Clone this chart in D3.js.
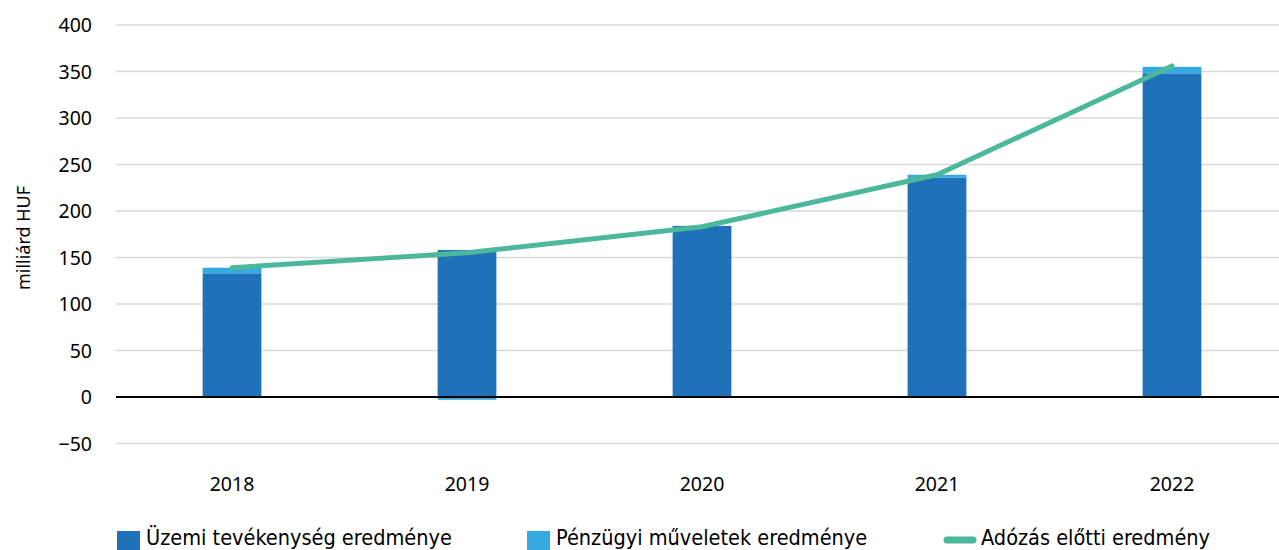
<!DOCTYPE html>
<html>
<head>
<meta charset="utf-8">
<script src="https://cdn.jsdelivr.net/npm/d3@7"></script>
<style>
  body { margin: 0; background: #fff; }
  svg { display: block; font-family: "Noto Sans", "Open Sans", sans-serif; }
</style>
</head>
<body>
<div id="chart"></div>
<script>
// chart data
const years = ["2018", "2019", "2020", "2021", "2022"];
const uzemi = [133, 158, 184, 236, 348];      // Üzemi tevékenység eredménye
const penzugyi = [6, -3, -1, 3, 7];           // Pénzügyi műveletek eredménye
const adozasElotti = [139, 155, 183, 239, 356]; // Adózás előtti eredmény
const yTicks = [-50, 0, 50, 100, 150, 200, 250, 300, 350, 400];
const legendLabels = ["Üzemi tevékenység eredménye", "Pénzügyi műveletek eredménye", "Adózás előtti eredmény"];

const width = 1279, height = 550;
const colDark = "#1f71b8", colLight = "#35a9e0", colLine = "#4cb89b";

const svg = d3.select("#chart").append("svg")
    .attr("width", width)
    .attr("height", height);

// scales
const x = d3.scaleBand().domain(years).range([114.5, 1289.5]).paddingInner(0.75).paddingOuter(0.375);
const y = d3.scaleLinear().domain([-50, 400]).range([443.5, 25]);

// gridlines
svg.append("g")
  .selectAll("line")
  .data(yTicks.filter(d => d !== 0))
  .enter().append("line")
    .attr("x1", 116).attr("x2", width)
    .attr("y1", d => y(d)).attr("y2", d => y(d))
    .attr("stroke", "#d9d9d9")
    .attr("stroke-width", 1.5);

// y tick labels
svg.append("g")
  .selectAll("text")
  .data(yTicks)
  .enter().append("text")
    .attr("x", 92)
    .attr("y", d => y(d))
    .attr("dy", "0.36em")
    .attr("text-anchor", "end")
    .attr("font-size", 19.5)
    .attr("fill", "#000")
    .text(d => d < 0 ? "\u2212" + Math.abs(d) : d);

// axis title
svg.append("text")
    .attr("transform", "translate(30,238) rotate(-90)")
    .attr("text-anchor", "middle")
    .attr("font-size", 18)
    .text("milliárd HUF");

// stacked bars: dark from 0, light stacked on top if positive, below 0 if negative
const bars = svg.append("g");
years.forEach((yr, i) => {
  const bx = x(yr), bw = x.bandwidth();
  bars.append("rect")
    .attr("x", bx).attr("width", bw)
    .attr("y", y(uzemi[i])).attr("height", y(0) - y(uzemi[i]))
    .attr("fill", colDark);
  const p = penzugyi[i];
  if (p >= 0) {
    bars.append("rect")
      .attr("x", bx).attr("width", bw)
      .attr("y", y(uzemi[i] + p)).attr("height", y(uzemi[i]) - y(uzemi[i] + p))
      .attr("fill", colLight);
  } else {
    bars.append("rect")
      .attr("x", bx).attr("width", bw)
      .attr("y", y(0)).attr("height", y(p) - y(0))
      .attr("fill", colLight);
  }
});

// zero line
svg.append("line")
    .attr("x1", 116).attr("x2", width)
    .attr("y1", y(0)).attr("y2", y(0))
    .attr("stroke", "#000")
    .attr("stroke-width", 2);

// line series
const line = d3.line()
    .x((d, i) => x(years[i]) + x.bandwidth() / 2)
    .y(d => y(d));

svg.append("path")
    .datum(adozasElotti)
    .attr("d", line)
    .attr("fill", "none")
    .attr("stroke", colLine)
    .attr("stroke-width", 5)
    .attr("stroke-linecap", "round")
    .attr("stroke-linejoin", "round");

// x labels
svg.append("g")
  .selectAll("text")
  .data(years)
  .enter().append("text")
    .attr("x", d => x(d) + x.bandwidth() / 2)
    .attr("y", 491)
    .attr("text-anchor", "middle")
    .attr("font-size", 19.5)
    .text(d => d);

// legend
const legend = svg.append("g").attr("font-family", "'Liberation Sans Narrow', 'DejaVu Sans Condensed', sans-serif");
const legX = [117, 527, 944];
legendLabels.forEach((lbl, i) => {
  const g = legend.append("g").attr("transform", `translate(${legX[i]},0)`);
  if (i < 2) {
    g.append("rect").attr("x", 0).attr("y", 531).attr("width", 23).attr("height", 19)
      .attr("fill", i === 0 ? colDark : colLight);
  } else {
    g.append("line").attr("x1", 3).attr("x2", 29).attr("y1", 540).attr("y2", 540)
      .attr("stroke", colLine).attr("stroke-width", 7).attr("stroke-linecap", "round");
  }
  g.append("text")
    .attr("x", i < 2 ? 29 : 37)
    .attr("y", 545)
    .attr("font-size", 21.5)
    .text(lbl);
});
</script>
</body>
</html>
